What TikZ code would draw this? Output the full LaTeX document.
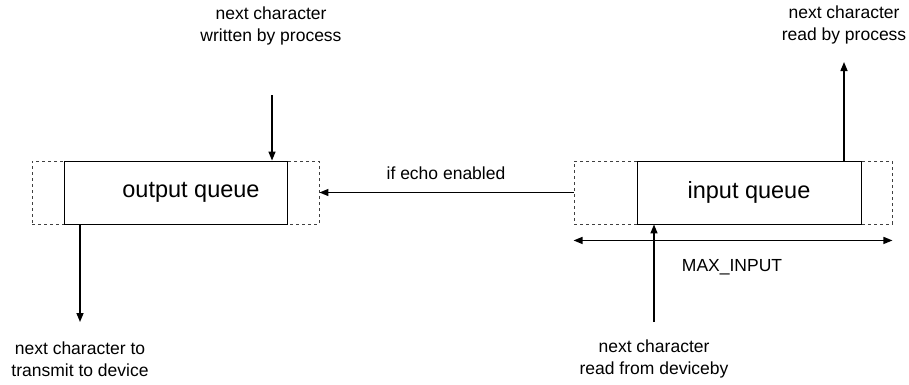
\documentclass[tikz,border=0pt]{standalone}
\usepackage{fontspec}
\setmainfont{Liberation Sans}
\usetikzlibrary{arrows.meta}
\begin{document}
\begin{tikzpicture}[x=1pt,y=-1pt,
  solidbox/.style={draw=black,line width=0.9pt,minimum height=63pt,inner sep=0pt,font=\fontsize{23.5}{28}\selectfont},
  dashbox/.style={draw=black!75,line width=0.9pt,dash pattern=on 3pt off 3pt,minimum height=63pt,inner sep=0pt},
  lbl/.style={align=center,font=\fontsize{17.5}{21.5}\selectfont,inner sep=0pt},
  conn/.style={line width=1.4pt,-{Triangle[length=9pt,width=7pt]}},
  dconn/.style={line width=1.4pt,{Triangle[length=9pt,width=7pt]}-{Triangle[length=9pt,width=7pt]}}]
\useasboundingbox (0,0) rectangle (909,384);

% queues with their dashed margins
\node[dashbox,minimum width=287pt] (outdash) at (175.5,192.5) {};
\node[solidbox,minimum width=223pt] (outbox) at (175.5,192.5) {\hspace*{31pt}output queue};
\node[dashbox,minimum width=318pt] (indash) at (733,192.5) {};
\node[solidbox,minimum width=224pt] (inbox) at (749,192.5) {input queue};

% texts
\node[lbl] (wtext) at (271,26) {next character\\written by process};
\node[lbl] (rtext) at (844,25) {next character\\read by process};
\node[lbl] (ttext) at (80,359) {next character to\\transmit to device};
\node[lbl] (dtext) at (654,359) {next character\\read from deviceby};
\node[lbl] (echo) at (446,173) {if echo enabled};
\node[lbl] (maxin) at (732,267) {MAX\_INPUT};

% free ends of the connectors
\coordinate (wfrom) at (272,95);
\coordinate (rto) at (844,62);
\coordinate (tto) at (80,322);
\coordinate (dfrom) at (654,322);

% connectors
\draw[conn] (wfrom) -- (wfrom |- outbox.north);
\draw[conn] (rto |- inbox.north) -- (rto);
\draw[conn] (tto |- outbox.south) -- (tto);
\draw[conn] (dfrom) -- (dfrom |- inbox.south);
\draw[conn] (indash.west) -- (outdash.east);
\draw[dconn] ([yshift=-16pt]indash.south west) -- ([yshift=-16pt]indash.south east);
\end{tikzpicture}
\end{document}
